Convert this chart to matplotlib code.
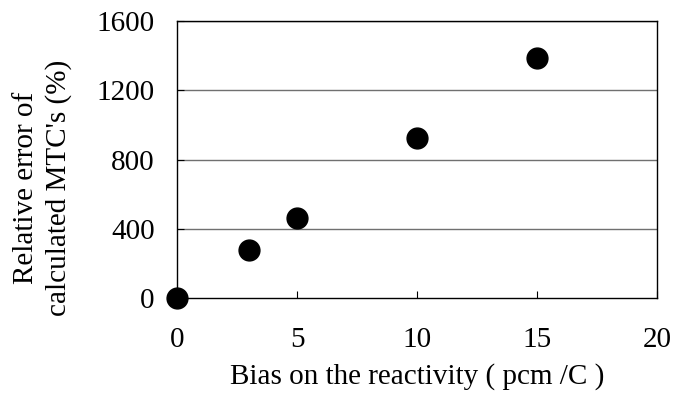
import matplotlib.pyplot as plt

# bias (pcm/C) vs relative error of calculated MTC's (%)
bias = [0, 3, 5, 10, 15]
rel_error = [0, 277, 462, 923, 1385]
x_ticks = [0, 5, 10, 15, 20]
y_ticks = [0, 400, 800, 1200, 1600]

plt.rcParams["font.family"] = ["Liberation Serif", "DejaVu Serif"]

fig = plt.figure(figsize=(6.89, 4.0), dpi=100)
ax = fig.add_axes([0.257, 0.255, 0.6966, 0.6925])

for y in y_ticks[1:]:
    ax.axhline(y, color="#707070", linewidth=1.0, zorder=1)
ax.plot(bias, rel_error, linestyle="none", marker="o", markersize=15,
        color="black", clip_on=False, zorder=3)

ax.set_xlim(0, 20)
ax.set_ylim(0, 1600)
ax.set_xticks(x_ticks)
ax.set_yticks(y_ticks)
ax.tick_params(axis="x", direction="in", length=5, pad=21, labelsize=21)
ax.tick_params(axis="y", direction="in", length=5, pad=16, labelsize=21)
for s in ax.spines.values():
    s.set_linewidth(1.0)

ax.set_xlabel("Bias on the reactivity ( pcm /C )", fontsize=21, labelpad=7)
fig.text(0.062, 0.53, "Relative error of\ncalculated MTC's (%)", rotation=90,
         ha="center", va="center", fontsize=21, linespacing=1.3)

fig.savefig("out.png", dpi=100)
